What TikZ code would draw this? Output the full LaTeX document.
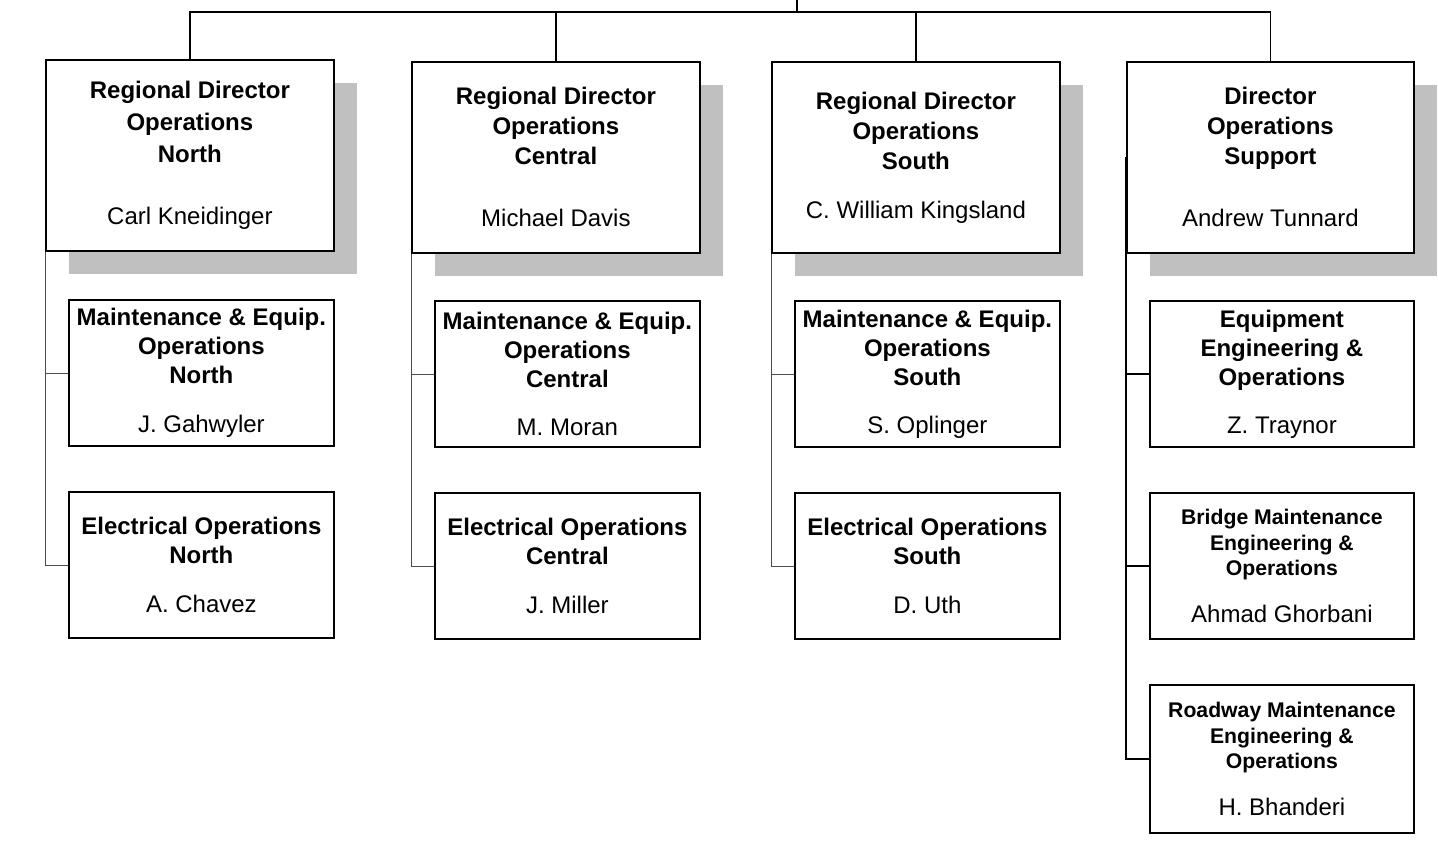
\documentclass[tikz,border=0pt]{standalone}
\usepackage{fontspec}
\setmainfont{Liberation Sans}
\usetikzlibrary{shadows}
\definecolor{shade}{HTML}{C0C0C0}
\begin{document}
\begin{tikzpicture}[x=1pt,y=-1pt,
  boxshadow/.style={drop shadow={shadow xshift=23pt, shadow yshift=-23pt, fill=shade, opacity=1, draw=none}},
  dirbox/.style={draw, line width=1.8pt, fill=white, minimum width=288pt, minimum height=191pt,
    inner sep=0pt, anchor=north west, align=center, boxshadow,
    font=\bfseries\fontsize{24}{30}\selectfont},
  subbox/.style={draw, line width=1.8pt, fill=white, minimum width=265pt, minimum height=146pt,
    inner sep=0pt, anchor=north west, align=center,
    font=\bfseries\fontsize{24}{29}\selectfont},
  smallbox/.style={subbox, font=\bfseries\fontsize{21.2}{25.5}\selectfont},
  barline/.style={line width=1.3pt, draw=black},
  leadline/.style={line width=0.8pt, draw=black!70},
  supline/.style={line width=1.8pt, draw=black},
]
\useasboundingbox (0,0) rectangle (1438,854);

% directors
\node[dirbox, font=\bfseries\fontsize{24}{32}\selectfont] (dir1) at (45,59) {Regional Director\\Operations\\North\\[30pt]{\mdseries Carl Kneidinger}};
\node[dirbox] (dir2) at (411,61) {Regional Director\\Operations\\Central\\[32pt]{\mdseries Michael Davis}};
\node[dirbox] (dir3) at (771,61) {Regional Director\\Operations\\South\\[19pt]{\mdseries C. William Kingsland}};
\node[dirbox, minimum width=287pt] (dir4) at (1126,61) {Director\\Operations\\Support\\[32pt]{\mdseries Andrew Tunnard}};

% column 1
\node[subbox] (m1) at (68,299) {Maintenance \& Equip.\\Operations\\North\\[20pt]{\mdseries J. Gahwyler}};
\node[subbox] (e1) at (68,491) {Electrical Operations\\North\\[20pt]{\mdseries A. Chavez}};
% column 2
\node[subbox] (m2) at (434,300) {Maintenance \& Equip.\\Operations\\Central\\[19pt]{\mdseries M. Moran}};
\node[subbox] (e2) at (434,492) {Electrical Operations\\Central\\[20pt]{\mdseries J. Miller}};
% column 3
\node[subbox] (m3) at (794,300) {Maintenance \& Equip.\\Operations\\South\\[19pt]{\mdseries S. Oplinger}};
\node[subbox] (e3) at (794,492) {Electrical Operations\\South\\[20pt]{\mdseries D. Uth}};
% column 4
\node[subbox, minimum width=264pt] (q) at (1149,300) {Equipment\\Engineering \&\\Operations\\[19pt]{\mdseries Z. Traynor}};
\node[smallbox, minimum width=264pt] (b) at (1149,492) {Bridge Maintenance\\Engineering \&\\Operations\\[21pt]{\mdseries\fontsize{24}{26}\selectfont Ahmad Ghorbani}};
\node[smallbox, minimum width=264pt, minimum height=148pt] (r) at (1149,684) {Roadway Maintenance\\Engineering \&\\Operations\\[21pt]{\mdseries\fontsize{24}{26}\selectfont H. Bhanderi}};

% top connectors
\coordinate (apex) at (797,0);
\coordinate (hub) at (797,12);
\draw[barline] (apex) -- (hub);
\draw[barline] (dir1.north) |- (hub);
\draw[barline] (dir2.north) |- (hub);
\draw[barline] (dir3.north) |- (hub);
\draw[barline] (dir4.north) |- (hub);

% column connectors
\draw[leadline] (dir1.south west) |- (e1.west);
\draw[leadline] (dir1.south west |- m1.west) -- (m1.west);
\draw[leadline] (dir2.south west) |- (e2.west);
\draw[leadline] (dir2.south west |- m2.west) -- (m2.west);
\draw[leadline] (dir3.south west) |- (e3.west);
\draw[leadline] (dir3.south west |- m3.west) -- (m3.west);
\draw[supline] (dir4.west) |- (r.west);
\draw[supline] (dir4.west |- q.west) -- (q.west);
\draw[supline] (dir4.west |- b.west) -- (b.west);
\end{tikzpicture}
\end{document}
